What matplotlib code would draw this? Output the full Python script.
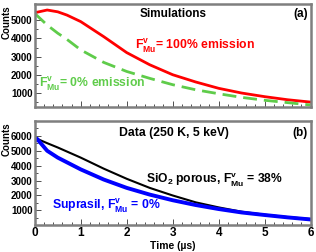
import matplotlib
matplotlib.use("Agg")
import matplotlib.pyplot as plt
from matplotlib.ticker import MultipleLocator

plt.rcParams['font.family'] = ['Liberation Sans', 'DejaVu Sans']
plt.rcParams['font.weight'] = 'bold'
plt.rcParams['mathtext.fontset'] = 'custom'
plt.rcParams['mathtext.rm'] = 'Liberation Sans:bold'
plt.rcParams['mathtext.it'] = 'Liberation Sans:bold'
plt.rcParams['mathtext.bf'] = 'Liberation Sans:bold'

# Simulations (panel a)
t_sim = [0, 0.27, 0.5, 0.7, 1.0, 1.5, 2.0, 2.5, 3.0, 3.5, 4.0, 4.5, 5.0, 5.5, 6.0]
sim_100 = [5420, 5570, 5470, 5290, 4930, 4100, 3220, 2550, 2000, 1600, 1250, 990, 790, 620, 490]
sim_0 = [5380, 4740, 4290, 3950, 3370, 2680, 2180, 1800, 1450, 1170, 950, 750, 590, 460, 330]

# Data (panel b)
t_data = [0, 0.05, 0.27, 0.5, 1.0, 1.5, 2.0, 2.5, 3.0, 3.5, 4.0, 4.5, 5.0, 5.5, 6.0]
sio2 = [5780, 5800, 5510, 5220, 4540, 3800, 3120, 2510, 2000, 1540, 1200, 910, 710, 550, 420]
suprasil = [5660, 5800, 5000, 4540, 3750, 3070, 2510, 2060, 1680, 1360, 1090, 860, 690, 530, 390]

xticks = [0, 1, 2, 3, 4, 5, 6]
yticks_a = [1000, 2000, 3000, 4000, 5000]
yticks_b = [1000, 2000, 3000, 4000, 5000, 6000]

fig = plt.figure(figsize=(3.16, 2.52), dpi=100)
axa = fig.add_axes([0.110, 0.574, 0.873, 0.410])
axb = fig.add_axes([0.110, 0.106, 0.873, 0.414])

frame = '#7f7f7f'
for ax in (axa, axb):
    for s in ax.spines.values():
        s.set_color(frame)
        s.set_linewidth(1.8)
    ax.set_xlim(0, 6)
    ax.set_xticks(xticks)
    ax.xaxis.set_minor_locator(MultipleLocator(0.2))
    ax.yaxis.set_minor_locator(MultipleLocator(500))
    ax.tick_params(which='both', direction='in', top=False, right=False,
                   width=0.6, color='#333333')
    ax.tick_params(axis='y', labelsize=7, pad=1.5)
    ax.tick_params(axis='x', labelsize=8.5, pad=1.0)
    ax.tick_params(which='major', length=4)
    ax.tick_params(which='minor', length=2)

axa.set_ylim(200, 5900)
axa.set_yticks(yticks_a)
axa.set_xticklabels([])
axa.plot(t_sim, sim_100, color='#ff0000', lw=2.0)
axa.plot(t_sim, sim_0, color='#5fcc4a', lw=2.0, dashes=(5, 2.5))
axa.text(0.381, 0.906, 'Simulations', transform=axa.transAxes, fontsize=8.5,
         fontweight='bold', ha='left', va='center')
axa.text(0.990, 0.906, '(a)', transform=axa.transAxes, fontsize=8.5,
         fontweight='bold', ha='right', va='center')
axa.text(0.365, 0.59, r'F$^{\rm v}_{\rm Mu}$= 100% emission', transform=axa.transAxes,
         fontsize=8.8, fontweight='bold', color='#ff0000', ha='left', va='center')
axa.text(0.0145, 0.219, r'F$^{\rm v}_{\rm Mu}$= 0% emission', transform=axa.transAxes,
         fontsize=8.8, fontweight='bold', color='#5fcc4a', ha='left', va='center')

axb.set_ylim(0, 7000)
axb.set_yticks(yticks_b)
axb.plot(t_data, sio2, color='black', lw=1.5)
axb.plot(t_data, suprasil, color='#0000ff', lw=2.8)
axb.set_xlabel('Time (µs)', fontsize=7.5, fontweight='bold')
axb.xaxis.set_label_coords(0.5, -0.198)
axb.xaxis.label.set_va('center')
axb.text(0.305, 0.882, 'Data (250 K, 5 keV)', transform=axb.transAxes, fontsize=8.8,
         fontweight='bold', ha='left', va='center')
axb.text(0.990, 0.882, '(b)', transform=axb.transAxes, fontsize=8.5,
         fontweight='bold', ha='right', va='center')
axb.text(0.4015, 0.428, r'SiO$_2$ porous, F$^{\rm v}_{\rm Mu}$ = 38%', transform=axb.transAxes,
         fontsize=8.7, fontweight='bold', color='black', ha='left', va='center')
axb.text(0.063, 0.185, r'Suprasil, F$^{\rm v}_{\rm Mu}$ = 0%', transform=axb.transAxes,
         fontsize=8.8, fontweight='bold', color='#0000ff', ha='left', va='center')

fig.text(7 / 316, 1 - 5 / 252, 'Counts', rotation=90, fontsize=7, fontweight='bold',
         ha='center', va='top')
fig.text(7 / 316, 1 - 122 / 252, 'Counts', rotation=90, fontsize=7, fontweight='bold',
         ha='center', va='top')

fig.savefig('out.png', dpi=100)
